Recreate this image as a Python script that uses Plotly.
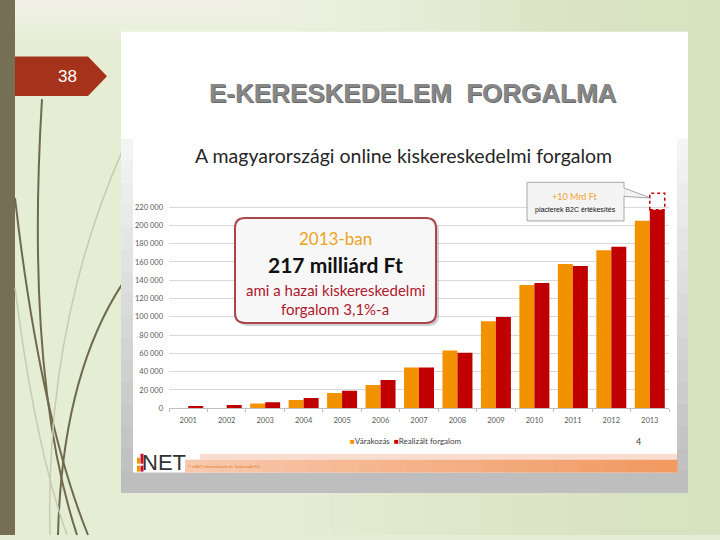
import plotly.graph_objects as go

# ---------------- data ----------------
years = ["2001", "2002", "2003", "2004", "2005", "2006", "2007",
         "2008", "2009", "2010", "2011", "2012", "2013"]
expected = [None, None, 5000, 9000, 16600, 25300, 44400,
            63000, 95000, 134700, 157800, 172600, 205000]      # Várakozás
realized = [2500, 3500, 6500, 11200, 19100, 30700, 44400,
            60600, 99600, 136800, 155600, 176500, 217000]      # Realizált forgalom
y_ticks = list(range(0, 220001, 20000))
y_tick_text = ["{:,}".format(v).replace(",", " ") for v in y_ticks]
series_names = ["Várakozás", "Realizált forgalom"]
series_colors = ["#f39200", "#c00000"]
extra_top = 235000   # dashed "+10 Mrd Ft" box top (visual)

# ---------------- helpers ----------------
W, H = 720, 540
def X(p): return p / W
def Y(p): return 1 - p / H

def rect(x0, y0, x1, y1, color, layer="below", line=None, lw=0):
    return dict(type="rect", xref="paper", yref="paper", x0=X(x0), x1=X(x1),
                y0=Y(y1), y1=Y(y0), fillcolor=color, layer=layer,
                line=dict(width=lw, color=line or color))

def path_px(cmds):
    out = []
    for c in cmds:
        if isinstance(c, str):
            out.append(c)
        else:
            out.append("{:.5f},{:.5f}".format(X(c[0]), Y(c[1])))
    return " ".join(out)

def rounded(x0, y0, x1, y1, r):
    return path_px(["M", (x0 + r, y0), "L", (x1 - r, y0), "Q", (x1, y0), (x1, y0 + r),
                    "L", (x1, y1 - r), "Q", (x1, y1), (x1 - r, y1),
                    "L", (x0 + r, y1), "Q", (x0, y1), (x0, y1 - r),
                    "L", (x0, y0 + r), "Q", (x0, y0), (x0 + r, y0), "Z"])

shapes = []
# slide background with soft gradient
shapes.append(rect(0, 0, 720, 540, "#e6edd5"))
for i in range(14):
    x0 = 300 + i * 30
    shapes.append(rect(x0, 0, 720, 540, "rgba(214,228,188,0.07)"))
for i in range(8):
    shapes.append(rect(0, 0, 520 - i * 40, 40 - i * 4, "rgba(246,249,240,0.12)"))
# left dark bar
shapes.append(rect(0, 0, 15, 540, "#776f55"))

# decorative curves
curves = [
    (["M", (42, 100), "Q", (25, 380), (77, 540)], "#6f6a4e", 2),
    (["M", (15, 200), "Q", (40, 420), (88, 540)], "#6f6a4e", 2),
    (["M", (122, 287), "Q", (62, 380), (58, 540)], "#6f6a4e", 2),
    (["M", (122, 153), "Q", (45, 330), (50, 540)], "#c6ccb2", 1.5),
    (["M", (15, 290), "Q", (35, 450), (67, 540)], "#c6ccb2", 1.5),
]
for pts, col, w in curves:
    shapes.append(dict(type="path", xref="paper", yref="paper", path=path_px(pts),
                       line=dict(color=col, width=w), layer="below"))

# red page tab
shapes.append(dict(type="path", xref="paper", yref="paper", layer="below",
                   path=path_px(["M", (15, 57), "L", (88, 57), "L", (107, 77),
                                 "L", (88, 97), "L", (15, 97), "Z"]),
                   fillcolor="#a5321a", line=dict(width=0)))

# white panel + gray frame
shapes.append(rect(121, 32, 688, 497, "#ffffff"))
n_bands = 16
for i in range(n_bands):
    v = int(244 - (244 - 190) * i / (n_bands - 1))
    bh = (497 - 140) / n_bands
    shapes.append(rect(121, 140 + i * bh, 688, 140 + (i + 1) * bh + 0.6,
                       "rgb({0},{0},{0})".format(v)))
# chart picture
shapes.append(rect(133, 140, 677, 477, "#ffffff"))
# bottom stripes of the picture
shapes.append(rect(200, 458, 677, 464, "#f9dcd0"))
n_or = 20
seg = (677 - 185) / n_or
for i in range(n_or):
    t = i / (n_or - 1)
    r = int(248 - 6 * t); g = int(200 - 46 * t); b = int(172 - 74 * t)
    shapes.append(rect(185 + i * seg, 464, 185 + (i + 1) * seg + 0.6, 477,
                       "rgb({},{},{})".format(r, g, b)))
# logo bars
shapes.append(rect(137, 462, 140, 476, "#f29400"))
shapes.append(rect(140.5, 458, 143.5, 476, "#c8102e"))
shapes.append(rect(137, 468, 143.5, 470, "#ffffff"))

# big callout box (shadow + box)
shapes.append(dict(type="path", xref="paper", yref="paper", layer="above",
                   path=rounded(238, 223, 439, 329, 10),
                   fillcolor="rgba(150,150,150,0.45)", line=dict(width=0)))
shapes.append(dict(type="path", xref="paper", yref="paper", layer="above",
                   path=rounded(235, 220, 436, 326, 10),
                   fillcolor="#f7f7f7", line=dict(width=2, color="#a9474a")))
# small callout box with tail
shapes.append(dict(type="path", xref="paper", yref="paper", layer="above",
                   path=path_px(["M", (622, 189), "L", (651, 200), "L", (622, 198), "Z"]),
                   fillcolor="#f4f4f4", line=dict(width=1, color="#a6a6a6")))
shapes.append(rect(527, 184, 624, 223, "#f4f4f4", layer="above", line="#a6a6a6", lw=1))
shapes.append(rect(622.5, 189.5, 624.5, 197.5, "#f4f4f4", layer="above"))

# dashed "+10 Mrd Ft" box on top of the 2013 realized bar (data coordinates)
shapes.append(dict(type="rect", xref="x", yref="y", x0=12.0, x1=12.39,
                   y0=realized[-1], y1=extra_top, layer="above",
                   line=dict(color="#c00000", width=1.5, dash="dot"),
                   fillcolor="rgba(0,0,0,0)"))

fig = go.Figure()
fig.add_trace(go.Bar(x=years, y=expected, name=series_names[0], marker_color=series_colors[0],
                     marker_line_width=0))
fig.add_trace(go.Bar(x=years, y=realized, name=series_names[1], marker_color=series_colors[1],
                     marker_line_width=0))

legend_text = "  ".join(
    "<span style='color:{}'>■</span>{}".format(c, n) for c, n in zip(series_colors, series_names))

ann = [
    dict(text="38", x=X(67), y=Y(77), font=dict(size=17, color="#ffffff", family="Liberation Sans")),
    dict(text="<b>E-KERESKEDELEM  FORGALMA</b>", x=X(414), y=Y(95),
         font=dict(size=26, color="#6a6a6a", family="Liberation Sans")),
    dict(text="<b>E-KERESKEDELEM  FORGALMA</b>", x=X(413), y=Y(94),
         font=dict(size=26, color="#878787", family="Liberation Sans")),
    dict(text="A magyarországi online kiskereskedelmi forgalom", x=X(403), y=Y(157),
         font=dict(size=19.5, color="#262626", family="Lato")),
    dict(text="2013-ban", x=X(335), y=Y(241),
         font=dict(size=17, color="#eea222", family="Lato")),
    dict(text="<b>217 milliárd Ft</b>", x=X(335), y=Y(267),
         font=dict(size=21, color="#111111", family="Lato")),
    dict(text="ami a hazai kiskereskedelmi", x=X(335), y=Y(293),
         font=dict(size=15, color="#b0182c", family="Lato")),
    dict(text="forgalom 3,1%-a", x=X(335), y=Y(312),
         font=dict(size=15, color="#b0182c", family="Lato")),
    dict(text="+10 Mrd Ft", x=X(575), y=Y(198),
         font=dict(size=9, color="#f0a030", family="Lato")),
    dict(text="piacterek B2C értékesítés", x=X(575), y=Y(212),
         font=dict(size=7, color="#111111", family="Liberation Sans Narrow, Liberation Sans")),
    dict(text=legend_text, x=X(406), y=Y(445),
         font=dict(size=8, color="#404040", family="Lato")),
    dict(text="4", x=X(638), y=Y(446), font=dict(size=9, color="#404040", family="Lato")),
    dict(text="NET", x=X(164), y=Y(467),
         font=dict(size=22, color="#333333", family="Liberation Sans Narrow, Liberation Sans")),
    dict(text="© eNET Internetkutató és Tanácsadó Kft.", x=X(186), y=Y(471), xanchor="left",
         font=dict(size=4, color="#e07a20", family="Liberation Sans")),
]
for a in ann:
    a.setdefault("xanchor", "center")
    a.update(xref="paper", yref="paper", yanchor="middle", showarrow=False)

tick_font = dict(size=7.5, color="#595959", family="Lato")
fig.update_layout(
    width=W, height=H, margin=dict(l=0, r=0, t=0, b=0),
    paper_bgcolor="#e6edd5", plot_bgcolor="rgba(0,0,0,0)",
    barmode="group", bargap=0.22, bargroupgap=0,
    shapes=shapes, annotations=ann,
    showlegend=False,
    xaxis=dict(type="category", domain=[X(169), X(669)], showgrid=False, showline=True,
               linecolor="#bfbfbf", ticks="outside", tickson="boundaries", ticklen=3,
               tickcolor="#bfbfbf", tickfont=tick_font, ticklabelstandoff=5,
               fixedrange=True),
    yaxis=dict(range=[0, 240000], domain=[Y(412), Y(190.5)], tickvals=y_ticks,
               ticktext=y_tick_text, showgrid=True, gridcolor="#d9d9d9", gridwidth=1,
               showline=False, zeroline=False, ticks="", ticklabelstandoff=5,
               tickfont=tick_font, fixedrange=True),
    font=dict(family="Lato"),
)

fig.write_html("out.html")
